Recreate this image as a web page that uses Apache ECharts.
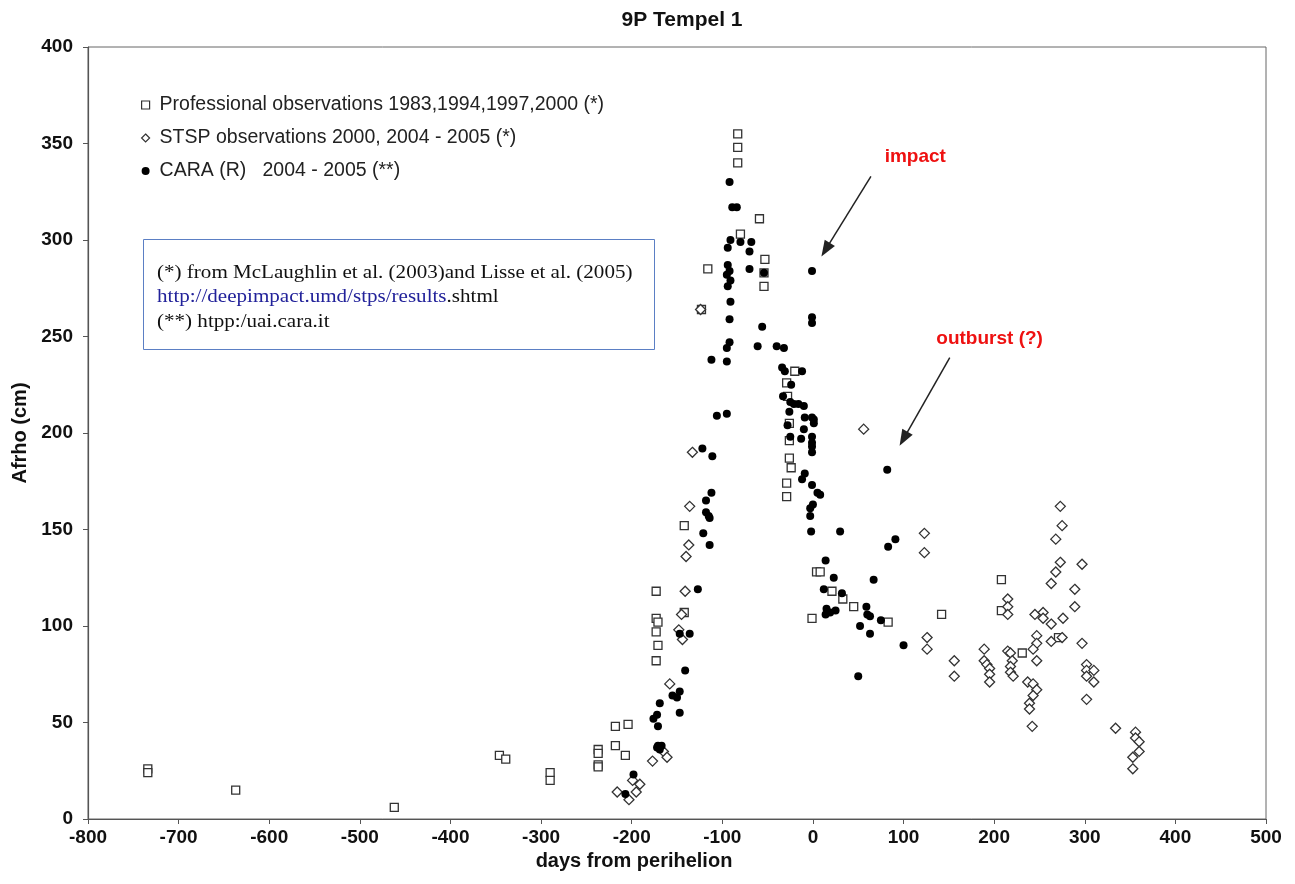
<!DOCTYPE html>
<html>
<head>
<meta charset="utf-8">
<script src="https://cdn.jsdelivr.net/npm/echarts@6/dist/echarts.min.js"></script>
<style>
html,body{margin:0;padding:0;background:#fff;}
#chart{width:1295px;height:884px;}
</style>
</head>
<body>
<div id="chart"></div>
<script>
// 9P Tempel 1 - Afrho vs days from perihelion
var proDays = [-734,-734,-637,-462,-346,-339,-290,-290,-237,-237,-237,-237,-218,-204,-218,-207,-173,-173,-171,-173,-171,-173,-142,-142,-123,-116,-83,-83,-83,-80,-59,-53,-54,-54,-20,-29,-28,-26,-26,-26,-24,-29,-29,-1,4,8,21,33,45,83,142,208,208,231,271];
var proAfrho = [26,24,15,6,33,31,24,20,36,34,28,27,48,49,38,33,118,104,102,97,90,82,152,107,264,285,355,348,340,303,311,290,283,276,232,226,219,205,196,187,182,174,167,104,128,128,118,114,110,102,106,124,108,86,94];

var stspDays = [-141,-145,-148,-144,-158,-177,-165,-161,-199,-191,-195,-216,-203,-133,-136,-137,-140,-124,56,123,123,126,126,156,156,189,189,192,195,195,195,215,215,215,215,218,220,218,218,221,245,254,254,247,247,243,247,237,243,247,243,239,239,242,263,263,275,276,263,268,273,268,275,273,289,289,297,297,302,302,310,302,310,302,334,356,356,360,360,353,353];
var stspAfrho = [118,106,98,93,70,30,35,32,20,18,14,14,10,190,162,142,136,264,202,148,138,94,88,82,74,88,82,80,78,75,71,114,110,106,87,86,82,79,76,74,106,107,104,95,91,88,82,71,70,67,64,60,57,48,101,92,94,104,122,128,133,145,152,162,119,110,132,91,80,77,77,74,71,62,47,45,42,40,35,32,26];

var caraDays = [-92,-89,-84,-91,-94,-80,-68,-70,-94,-92,-95,-91,-94,-70,-54,-1,-91,-92,-56,-1,-1,-92,-95,-61,-40,-32,-112,-95,
  -34,-31,-12,-24,-33,-25,-21,-16,-10,-26,-9,-1,1,1,-28,-10,-25,-13,-1,-1,-1,-1,-9,-12,-1,5,8,0,-3,-3,-2,30,
  -106,-95,-122,-111,-112,-118,-118,-115,-114,-121,-114,-127,
  -147,-136,-141,-147,-155,-150,-147,-169,-172,-176,-171,-171,-167,-169,-172,-198,-207,
  91,83,14,23,67,12,32,15,14,19,25,59,60,63,52,63,75,100,50,82];
var caraAfrho = [330,317,317,300,296,299,299,294,287,284,282,279,276,285,283,284,268,259,255,260,257,247,244,245,245,244,238,237,
  234,232,232,225,219,216,215,215,214,211,208,208,207,205,204,202,198,197,198,195,193,190,179,176,173,169,168,163,161,157,149,149,
  209,210,192,188,169,165,159,157,156,148,142,119,
  96,96,77,66,64,63,55,60,54,52,48,38,38,36,37,23,13,
  145,141,134,125,124,119,117,109,106,107,108,110,106,105,100,96,103,90,74,181];

var seriesNames = ['Professional observations 1983,1994,1997,2000 (*)', 'STSP observations 2000, 2004 - 2005 (*)', 'CARA (R)   2004 - 2005 (**)'];

function pairs(xs, ys){
  var out = [];
  for (var i = 0; i < xs.length; i++) out.push([xs[i], ys[i]]);
  return out;
}

var font = "'Liberation Sans', Arial, sans-serif";
var serif = "'Liberation Serif', 'Times New Roman', serif";
var chart = echarts.init(document.getElementById('chart'));

var option = {
  animation: false,
  backgroundColor: '#fff',
  title: {
    text: '9P Tempel 1',
    left: 677,
    top: 5,
    textAlign: 'center',
    textStyle: {fontFamily: font, fontSize: 21, fontWeight: 'bold', color: '#111'}
  },
  grid: {left: 88, right: 29, top: 47, bottom: 65, show: true, borderColor: '#666', borderWidth: 1, backgroundColor: 'transparent'},
  legend: {
    orient: 'vertical',
    left: 141,
    top: 95,
    padding: 0,
    itemGap: 13,
    itemWidth: 8,
    itemHeight: 8,
    textStyle: {fontFamily: font, fontSize: 19.5, color: '#222', padding: [0, 0, 0, 5]},
    data: [
      {name: seriesNames[0], icon: 'rect', itemStyle: {color: '#fff', borderColor: '#333', borderWidth: 1.2}},
      {name: seriesNames[1], icon: 'diamond', itemStyle: {color: '#fff', borderColor: '#333', borderWidth: 1.2}},
      {name: seriesNames[2], icon: 'circle', itemStyle: {color: '#000'}}
    ]
  },
  xAxis: {
    type: 'value',
    min: -800, max: 500, interval: 100,
    name: 'days from perihelion',
    nameLocation: 'middle',
    nameGap: 30,
    nameTextStyle: {fontFamily: font, fontSize: 20, fontWeight: 'bold', color: '#111', padding: [0, 86, 0, 0]},
    splitLine: {show: false},
    axisLine: {onZero: false, lineStyle: {color: '#555', width: 1.2}},
    axisTick: {show: true, length: 5, lineStyle: {color: '#555'}},
    axisLabel: {fontFamily: font, fontSize: 19, fontWeight: 'bold', color: '#111', margin: 9}
  },
  yAxis: {
    type: 'value',
    min: 0, max: 400, interval: 50,
    name: 'Afrho (cm)',
    nameLocation: 'middle',
    nameGap: 58,
    nameTextStyle: {fontFamily: font, fontSize: 20, fontWeight: 'bold', color: '#111'},
    splitLine: {show: false},
    axisLine: {show: true, onZero: false, lineStyle: {color: '#555', width: 1.2}},
    axisTick: {show: true, length: 5, lineStyle: {color: '#555'}},
    axisLabel: {fontFamily: font, fontSize: 19, fontWeight: 'bold', color: '#111', margin: 15}
  },
  series: [
    {
      name: seriesNames[0],
      type: 'scatter',
      symbol: 'rect',
      symbolSize: 8,
      itemStyle: {color: '#fff', borderColor: '#333', borderWidth: 1.3, opacity: 1},
      data: pairs(proDays, proAfrho)
    },
    {
      name: seriesNames[1],
      type: 'scatter',
      symbol: 'diamond',
      symbolSize: 10,
      itemStyle: {color: '#fff', borderColor: '#333', borderWidth: 1.3, opacity: 1},
      data: pairs(stspDays, stspAfrho)
    },
    {
      name: seriesNames[2],
      type: 'scatter',
      symbol: 'circle',
      symbolSize: 8,
      itemStyle: {color: '#000', opacity: 1},
      data: pairs(caraDays, caraAfrho),
      markLine: {
        silent: true,
        animation: false,
        symbol: ['none', 'triangle'],
        symbolSize: [12, 16],
        label: {show: false},
        lineStyle: {color: '#222', width: 1.5, type: 'solid'},
        data: [
          [{coord: [64, 333]}, {coord: [14, 295]}],
          [{coord: [151, 239]}, {coord: [100, 197]}]
        ]
      },
      markPoint: {
        silent: true,
        animation: false,
        symbol: 'circle',
        symbolSize: 0,
        label: {show: true, position: 'inside', formatter: '{b}', color: '#ee1111', fontFamily: font, fontSize: 19, fontWeight: 'bold'},
        data: [
          {name: 'impact', coord: [113, 343]},
          {name: 'outburst (?)', coord: [195, 249]}
        ]
      }
    }
  ],
  graphic: [
    {
      type: 'rect',
      left: 143, top: 239,
      shape: {width: 511, height: 110},
      style: {fill: '#fff', stroke: '#5b7fc4', lineWidth: 1},
      z: 10
    },
    {
      type: 'text',
      x: 157, y: 261,
      scaleX: 1.17,
      z: 11,
      style: {
        text: '(*) from McLaughlin et al. (2003)and Lisse et al. (2005)\n{u|http://deepimpact.umd/stps/results}.shtml\n(**) htpp:/uai.cara.it',
        fontFamily: serif,
        fontSize: 18,
        lineHeight: 24.5,
        fill: '#111',
        rich: {u: {fill: '#22229a', fontFamily: serif, fontSize: 18, lineHeight: 24.5}}
      }
    }
  ]
};

chart.setOption(option);
window.addEventListener('resize', function(){ chart.resize(); });
</script>
</body>
</html>
